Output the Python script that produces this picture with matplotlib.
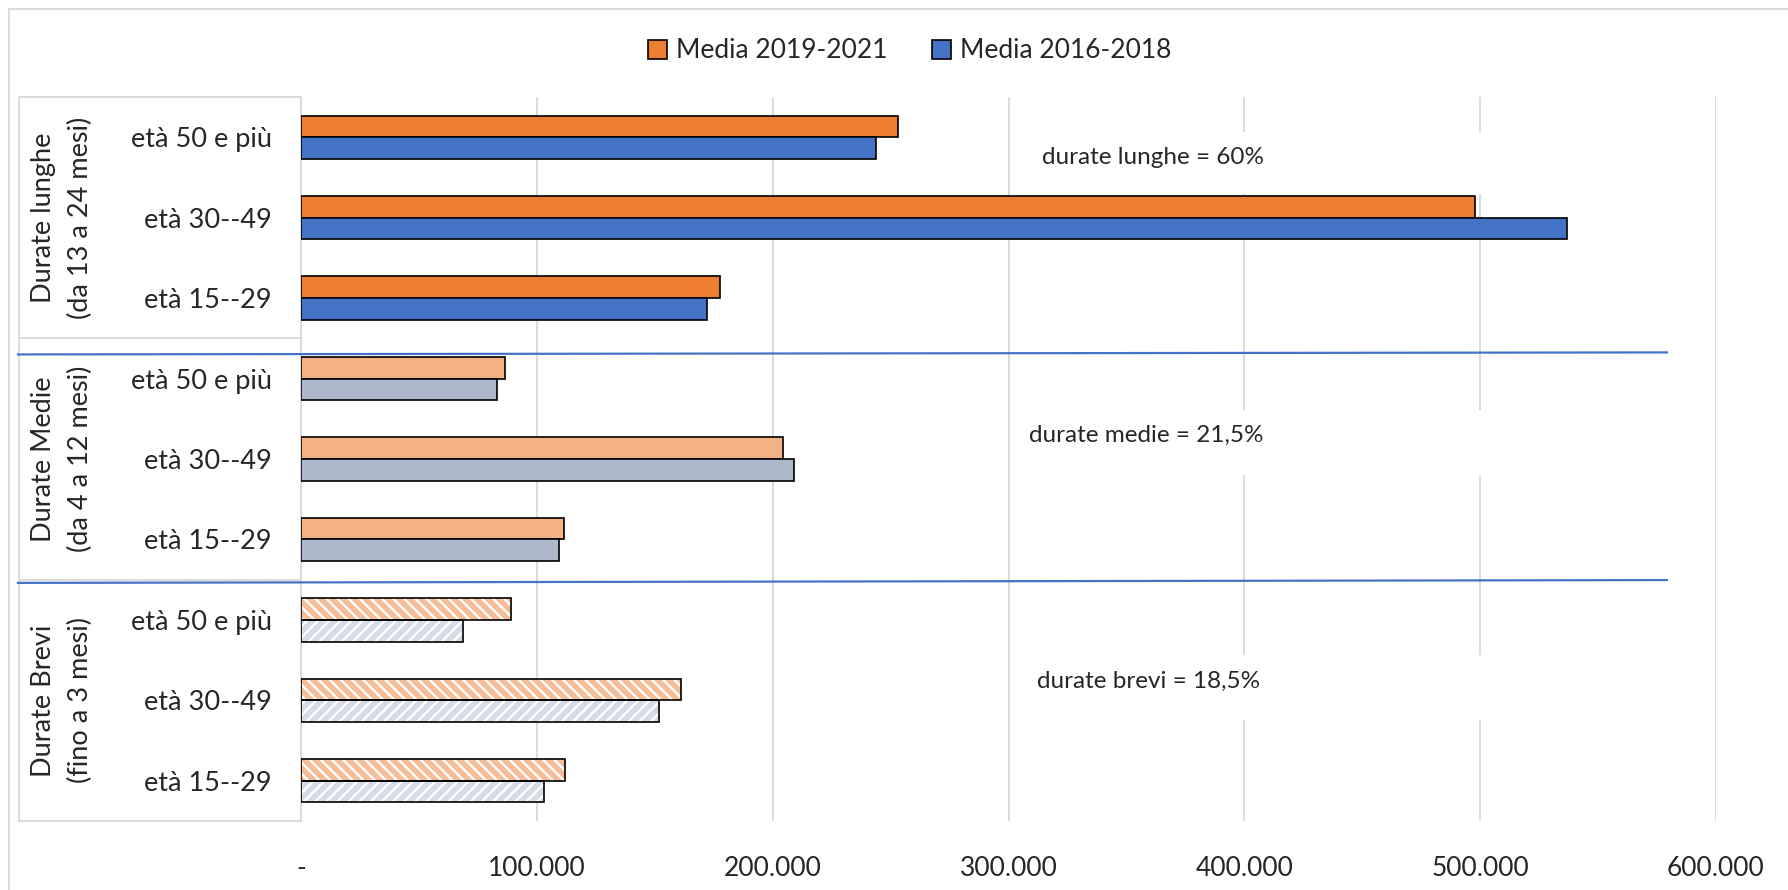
import numpy as np
import matplotlib
matplotlib.use("Agg")
import matplotlib.pyplot as plt
import matplotlib.transforms as mtransforms
from matplotlib.patches import Patch, Rectangle
from matplotlib.lines import Line2D

# dati
eta = ["età 50 e più", "età 30--49", "età 15--29"]
gruppi = ["Durate lunghe", "Durate Medie", "Durate Brevi"]
sottotitoli = ["(da 13 a 24 mesi)", "(da 4 a 12 mesi)", "(fino a 3 mesi)"]
media_2019_2021 = [253000, 498000, 177500, 86500, 204500, 111700, 89000, 161300, 111900]
media_2016_2018 = [244000, 537000, 172000, 83300, 209000, 109300, 68500, 152000, 103000]
quote = ["durate lunghe = 60%", "durate medie = 21,5%", "durate brevi = 18,5%"]
x_ticks = [0, 100000, 200000, 300000, 400000, 500000, 600000]
x_labels = ["-", "100.000", "200.000", "300.000", "400.000", "500.000", "600.000"]

plt.rcParams['font.family'] = ['Lato', 'DejaVu Sans']
plt.rcParams['hatch.linewidth'] = 4.0

W, H = 1788, 890
fig = plt.figure(figsize=(W / 100, H / 100), dpi=100)
ax = fig.add_axes([301 / W, 1 - 821 / H, (1716 - 301) / W, (821 - 97) / H])

y = np.arange(9)
bh = 0.27
grigio = '#D9D9D9'
testo = '#262626'

#barre piene (durate lunghe e medie)
col_or = ['#ED7D31', '#F4B183']
col_bl = ['#4472C4', '#ADB9CA']
for g in range(2):
    s = slice(3 * g, 3 * g + 3)
    ax.barh(y[s] - bh / 2, media_2019_2021[s], height=bh, color=col_or[g],
            edgecolor='black', linewidth=1.2, zorder=3)
    ax.barh(y[s] + bh / 2, media_2016_2018[s], height=bh, color=col_bl[g],
            edgecolor='black', linewidth=1.2, zorder=3)

#barre tratteggiate (durate brevi)
s = slice(6, 9)
ax.barh(y[s] - bh / 2, media_2019_2021[s], height=bh, color='white',
        edgecolor='#F6BE98', hatch='\\\\\\', linewidth=0, zorder=3)
ax.barh(y[s] + bh / 2, media_2016_2018[s], height=bh, color='white',
        edgecolor='#D6DCE5', hatch='///', linewidth=0, zorder=3)
ax.barh(y[s] - bh / 2, media_2019_2021[s], height=bh, fill=False,
        edgecolor='black', linewidth=1.2, zorder=4)
ax.barh(y[s] + bh / 2, media_2016_2018[s], height=bh, fill=False,
        edgecolor='black', linewidth=1.2, zorder=4)

ax.set_xlim(0, 600000)
ax.set_ylim(8.5, -0.5)
ax.set_xticks(x_ticks, x_labels)
ax.set_yticks(y, eta * 3)
ax.tick_params(axis='x', length=0, pad=25, labelsize=19, colors=testo)
ax.tick_params(axis='y', length=0, pad=21, labelsize=19.5, colors=testo)
ax.grid(axis='x', color=grigio, linewidth=1.3)
ax.set_axisbelow(True)
for sp in ['top', 'right', 'bottom']:
    ax.spines[sp].set_visible(False)
ax.spines['left'].set_color(grigio)
ax.spines['left'].set_linewidth(1.3)

#caselle di testo con sfondo bianco
box_y = [(-0.07, 0.70), (3.39, 4.20), (6.44, 7.25)]
testo_y = [0.25, 3.70, 6.76]
testo_x = [314000, 308700, 312000]
for (y0, y1), ty, tx, q in zip(box_y, testo_y, testo_x, quote):
    ax.add_patch(Rectangle((303000, y0), 290000, y1 - y0, facecolor='white',
                           edgecolor='none', zorder=1))
    ax.text(tx, ty, q, fontsize=17.5, va='center', ha='left', color=testo, zorder=2)

trans = mtransforms.blended_transform_factory(fig.transFigure, ax.transData)

#riquadro categorie a sinistra
for yy in [-0.5, 2.5, 5.5, 8.5]:
    fig.add_artist(Line2D([19 / W, 301 / W], [yy, yy], transform=trans, color=grigio, lw=1.3))
fig.add_artist(Line2D([19 / W, 19 / W], [-0.5, 8.5], transform=trans, color=grigio, lw=1.3))

for g in range(3):
    fig.text(44 / W, 3 * g + 1, gruppi[g], transform=trans, rotation=90,
             ha='center', va='center', fontsize=19.5, color=testo)
    fig.text(80 / W, 3 * g + 1, sottotitoli[g], transform=trans, rotation=90,
             ha='center', va='center', fontsize=19.5, color=testo)

#linee blu di separazione
fig.add_artist(Line2D([18 / W, 1667 / W], [2.70, 2.675], transform=trans, color='#4472C4', lw=1.6, zorder=5))
fig.add_artist(Line2D([18 / W, 1667 / W], [5.54, 5.505], transform=trans, color='#4472C4', lw=1.6, zorder=5))

#bordo esterno
fig.add_artist(Line2D([9 / W, 9 / W], [0, 1 - 9 / H], color=grigio, lw=1.3))
fig.add_artist(Line2D([9 / W, 1], [1 - 9 / H, 1 - 9 / H], color=grigio, lw=1.3))

#legenda
handles = [Patch(facecolor='#ED7D31', edgecolor='black', linewidth=1.2, label='Media 2019-2021'),
           Patch(facecolor='#4472C4', edgecolor='black', linewidth=1.2, label='Media 2016-2018')]
fig.legend(handles=handles, loc='center', bbox_to_anchor=(910 / W, 1 - 51 / H), ncol=2,
           frameon=False, fontsize=19, handlelength=0.7, handleheight=0.7,
           handletextpad=0.35, columnspacing=1.7, labelcolor=testo)

fig.savefig('out.png', dpi=100)
